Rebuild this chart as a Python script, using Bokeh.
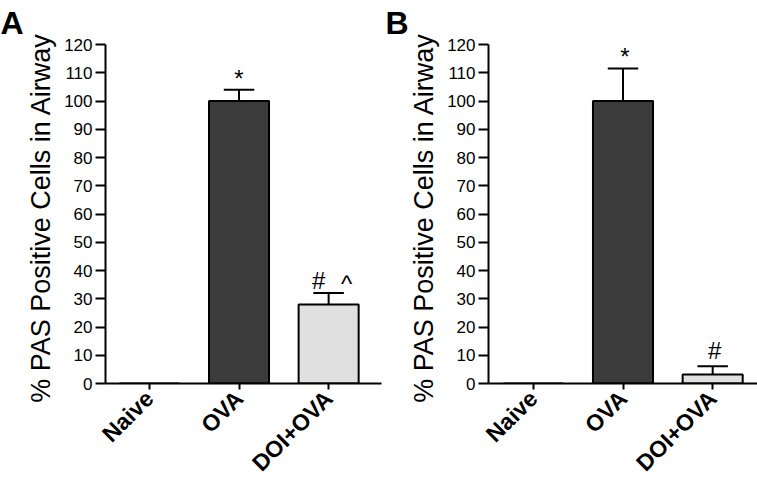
import math
from bokeh.plotting import figure
from bokeh.models import Range1d, FixedTicker, Title
from bokeh.layouts import row
from bokeh.embed import file_html
from bokeh.resources import INLINE
from bokeh.core.properties import value

# ---- data ----
categories = ["Naive", "OVA", "DOI+OVA"]
a_means = [0, 100, 28]
a_upper = [0, 104, 32]
b_means = [0, 100, 3.2]
b_upper = [0, 111.5, 6.1]
bar_colors = ["#ffffff", "#3b3b3b", "#e0e0e0"]
y_ticks = list(range(0, 121, 10))
a_signs = ["*", "#", "^"]
a_sign_cat = [1, 2, 2]
b_signs = ["*", "#"]
b_sign_cat = [1, 2]

FONT = "Liberation Sans"


def make_panel(letter, means, upper, signs, sign_cat, sign_dx, sign_dy,
               x_start, x_end, width, min_left, min_right):
    p = figure(width=width, height=488,
               x_range=Range1d(x_start, x_end), y_range=Range1d(0, 120),
               output_backend="svg", toolbar_location=None,
               min_border_left=min_left, min_border_right=min_right,
               min_border_top=44, min_border_bottom=104)
    p.outline_line_color = None
    p.xgrid.visible = False
    p.ygrid.visible = False
    p.background_fill_color = "white"

    p.title = Title(text=letter, align="left", offset=-min_left,
                    vertical_align="top",
                    text_font=FONT, text_font_style="bold",
                    text_font_size="32px", text_color="black",
                    standoff=4)

    xs = list(range(len(categories)))
    p.vbar(x=xs, top=means, width=0.67, fill_color=bar_colors,
           line_color="black", line_width=2)

    ex = [x for x, m, u in zip(xs, means, upper) if u > m]
    em = [m for m, u in zip(means, upper) if u > m]
    eu = [u for m, u in zip(means, upper) if u > m]
    cap = 0.17
    p.segment(x0=ex, y0=em, x1=ex, y1=eu, line_color="black", line_width=2)
    p.segment(x0=[x - cap for x in ex], y0=eu, x1=[x + cap for x in ex], y1=eu,
              line_color="black", line_width=2)

    for s, c, dx, dy in zip(signs, sign_cat, sign_dx, sign_dy):
        p.text(x=[c], y=[upper[c]], text=[s], text_font=value(FONT),
               text_font_size="24px", text_color="black",
               text_align="center", text_baseline="alphabetic",
               x_offset=dx, y_offset=dy)

    # x axis
    xa = p.xaxis[0]
    xa.ticker = FixedTicker(ticks=xs)
    xa.major_label_overrides = {i: c for i, c in enumerate(categories)}
    xa.major_label_orientation = math.pi / 4
    xa.major_label_text_font = FONT
    xa.major_label_text_font_style = "bold"
    xa.major_label_text_font_size = "23px"
    xa.major_label_text_color = "black"
    xa.major_label_standoff = 5
    xa.major_tick_out = 6
    xa.major_tick_in = 0
    xa.minor_tick_out = 0
    xa.minor_tick_in = 0
    xa.axis_line_width = 2
    xa.major_tick_line_width = 2
    xa.axis_line_color = "black"
    xa.major_tick_line_color = "black"

    # y axis
    ya = p.yaxis[0]
    ya.ticker = FixedTicker(ticks=y_ticks)
    ya.major_label_text_font = FONT
    ya.major_label_text_font_size = "17px"
    ya.major_label_text_color = "black"
    ya.major_label_standoff = 3
    ya.major_tick_out = 10
    ya.major_tick_in = 0
    ya.minor_tick_out = 0
    ya.minor_tick_in = 0
    ya.axis_line_width = 2
    ya.major_tick_line_width = 2
    ya.axis_line_color = "black"
    ya.major_tick_line_color = "black"
    ya.axis_label = "% PAS Positive  Cells in Airway"
    ya.axis_label_text_font = FONT
    ya.axis_label_text_font_style = "normal"
    ya.axis_label_text_font_size = "27px"
    ya.axis_label_text_color = "black"
    ya.axis_label_standoff = 5
    return p


pA = make_panel("A", a_means, a_upper, a_signs, a_sign_cat,
                [0, -10, 18], [-11, -13, -10],
                -0.49, 2.59, 385, 105, 4)
pB = make_panel("B", b_means, b_upper, b_signs, b_sign_cat,
                [2, 2], [-12, -16],
                -0.5, 2.50, 372, 103, 0)

layout = row(pA, pB)
open("out.html", "w").write(file_html(layout, INLINE))
